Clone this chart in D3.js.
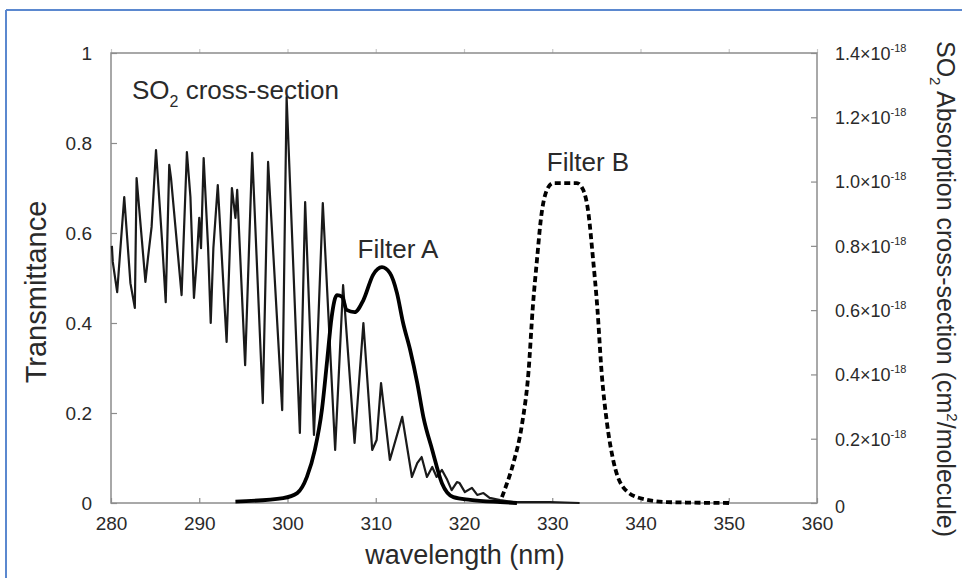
<!DOCTYPE html>
<html>
<head>
<meta charset="utf-8">
<script src="https://cdn.jsdelivr.net/npm/d3@7"></script>
<style>
  html, body { margin: 0; padding: 0; background: #fff; }
  svg { display: block; font-family: "Liberation Sans", Arial, Helvetica, sans-serif; }
</style>
</head>
<body>
<svg id="chart" width="962" height="578"></svg>
<script>
// SO2 absorption cross-section (units of 1e-18 cm^2/molecule)
const so2Wavelength = [280.1, 280.2, 280.7, 281.5, 282.2, 282.7, 282.9, 283.5, 283.9, 284.2, 284.6, 285.1,
  285.8, 286.2, 286.6, 286.8, 287.3, 288.0, 288.6, 289.0, 289.4, 289.7, 290.0, 290.2, 290.5, 291.0, 291.3,
  291.6, 292.1, 293.1, 293.7, 294.1, 294.3, 295.2, 296.0, 297.2, 297.8, 299.4, 299.9, 301.4, 302.0, 303.0,
  304.0, 305.4, 306.3, 307.6, 308.6, 309.6, 310.1, 310.6, 311.6, 313.0, 314.1, 314.7, 315.2, 315.8, 316.4,
  316.9, 317.5, 318.1, 318.6, 319.2, 319.5, 320.1, 320.9, 321.5, 322.2, 322.9, 324.1, 325.6, 329.7, 333.1];
const so2CrossSection = [0.80, 0.75, 0.656, 0.952, 0.684, 0.607, 1.011, 0.818, 0.688, 0.765, 0.859, 1.098,
  0.809, 0.625, 1.052, 1.011, 0.859, 0.647, 1.092, 0.952, 0.638, 0.75, 0.887, 0.793, 1.073, 0.796, 0.56,
  0.793, 0.989, 0.501, 0.98, 0.887, 0.974, 0.429, 1.089, 0.311, 1.061, 0.289, 1.263, 0.218, 0.936, 0.212,
  0.933, 0.165, 0.678, 0.187, 0.56, 0.165, 0.196, 0.373, 0.134, 0.268, 0.081, 0.124, 0.143, 0.081, 0.112,
  0.081, 0.103, 0.072, 0.04, 0.065, 0.062, 0.034, 0.047, 0.025, 0.031, 0.016, 0.009, 0.003, 0.003, 0];

// Filter A transmittance
const filterAWavelength = [294.1, 299.5, 301.1, 302.2, 303.1, 303.9, 304.5, 305.0, 305.6, 306.2, 306.7,
  307.6, 308.6, 309.7, 310.7, 311.6, 312.4, 313.1, 313.9, 314.7, 315.4, 316.4, 317.5, 318.8, 320.7, 324.1, 326.0];
const filterATransmittance = [0.003, 0.011, 0.022, 0.058, 0.118, 0.207, 0.318, 0.413, 0.462, 0.458, 0.429,
  0.424, 0.451, 0.507, 0.524, 0.511, 0.467, 0.40, 0.34, 0.267, 0.191, 0.118, 0.044, 0.013, 0.007, 0.002, 0.0];

// Filter B transmittance
const filterBWavelength = [324.3, 324.6, 325.6, 326.6, 327.3, 327.8, 328.3, 328.7, 329.4, 330.1, 332.8,
  333.5, 334.1, 334.6, 335.1, 335.6, 336.2, 336.9, 338.0, 339.9, 343.0, 350.1];
const filterBTransmittance = [0.013, 0.029, 0.089, 0.178, 0.289, 0.436, 0.547, 0.629, 0.696, 0.711, 0.711,
  0.696, 0.644, 0.547, 0.436, 0.289, 0.178, 0.096, 0.036, 0.011, 0.002, 0];

// Axis ticks
const wavelengthTicks = [280, 290, 300, 310, 320, 330, 340, 350, 360];
const transmittanceTicks = [0, 0.2, 0.4, 0.6, 0.8, 1];
const transmittanceLabels = ["0", "0.2", "0.4", "0.6", "0.8", "1"];
const crossSectionTicks = [0, 0.2, 0.4, 0.6, 0.8, 1.0, 1.2, 1.4];
const crossSectionMantissa = ["0", "0.2", "0.4", "0.6", "0.8", "1.0", "1.2", "1.4"];
const crossSectionExponent = "-18";

const svg = d3.select("#chart");
const plotLeft = 111, plotRight = 817, plotTop = 53, plotBottom = 503;

const x = d3.scaleLinear().domain([280, 360]).range([plotLeft, plotRight]);
const yT = d3.scaleLinear().domain([0, 1]).range([plotBottom, plotTop]);
const yC = d3.scaleLinear().domain([0, 1.4]).range([plotBottom, plotTop]);

const textColor = "#2a2a2a";
const frameColor = "#8c8c8c";

// page frame (top and left rules)
svg.append("line").attr("x1", 6).attr("x2", 962).attr("y1", 10).attr("y2", 10)
  .attr("stroke", "#5b88cf").attr("stroke-width", 2);
svg.append("line").attr("x1", 6).attr("x2", 6).attr("y1", 10).attr("y2", 578)
  .attr("stroke", "#5b88cf").attr("stroke-width", 2);

// axes
function styleAxis(g) {
  g.select(".domain").remove();
  g.selectAll(".tick line").attr("stroke", frameColor).attr("stroke-width", 1.2);
  g.selectAll(".tick text").attr("fill", textColor);
  g.attr("font-family", null);
}

svg.append("g").attr("transform", `translate(0,${plotBottom})`)
  .call(d3.axisBottom(x).tickValues(wavelengthTicks).tickFormat(d3.format("d"))
    .tickSizeInner(-5).tickSizeOuter(0).tickPadding(14))
  .call(styleAxis)
  .call(g => g.selectAll(".tick text").attr("font-size", 19));

svg.append("g").attr("transform", `translate(0,${plotTop})`)
  .call(d3.axisTop(x).tickValues(wavelengthTicks).tickFormat("").tickSizeInner(4).tickSizeOuter(0))
  .call(styleAxis)
  .call(g => g.selectAll(".tick line").attr("stroke", "#c8c8c8"));

svg.append("g").attr("transform", `translate(${plotLeft},0)`)
  .call(d3.axisLeft(yT).tickValues(transmittanceTicks)
    .tickFormat((d, i) => transmittanceLabels[i])
    .tickSizeInner(-6).tickSizeOuter(0).tickPadding(19))
  .call(styleAxis)
  .call(g => g.selectAll(".tick text").attr("font-size", 19));

const rightAxis = svg.append("g").attr("transform", `translate(${plotRight},0)`)
  .call(d3.axisRight(yC).tickValues(crossSectionTicks).tickFormat("")
    .tickSizeInner(-6).tickSizeOuter(0))
  .call(styleAxis);

rightAxis.selectAll(".tick").each(function (d, i) {
  const t = d3.select(this).append("text")
    .attr("x", 18).attr("dy", "0.35em")
    .attr("fill", textColor).attr("font-size", 18).attr("text-anchor", "start");
  if (d === 0) {
    t.text(crossSectionMantissa[i]).attr("dy", "0.55em");
  } else {
    t.append("tspan").text(crossSectionMantissa[i] + "\u00d710");
    t.append("tspan").attr("dy", -8).attr("font-size", 11).text(crossSectionExponent);
  }
});

// plot frame
svg.append("rect").attr("x", plotLeft).attr("y", plotTop)
  .attr("width", plotRight - plotLeft).attr("height", plotBottom - plotTop)
  .attr("fill", "none").attr("stroke", frameColor).attr("stroke-width", 1.5);

// series
const so2Line = d3.line().x(i => x(so2Wavelength[i])).y(i => yC(so2CrossSection[i]));
svg.append("path").datum(d3.range(so2Wavelength.length))
  .attr("d", so2Line).attr("fill", "none").attr("stroke", "#1a1a1a")
  .attr("stroke-width", 2.2).attr("stroke-linejoin", "round");

const filterALine = d3.line().curve(d3.curveMonotoneX)
  .x(i => x(filterAWavelength[i])).y(i => yT(filterATransmittance[i]));
svg.append("path").datum(d3.range(filterAWavelength.length))
  .attr("d", filterALine).attr("fill", "none").attr("stroke", "#000")
  .attr("stroke-width", 3.8).attr("stroke-linejoin", "round");

const filterBLine = d3.line().curve(d3.curveMonotoneX)
  .x(i => x(filterBWavelength[i])).y(i => yT(filterBTransmittance[i]));
svg.append("path").datum(d3.range(filterBWavelength.length))
  .attr("d", filterBLine).attr("fill", "none").attr("stroke", "#000")
  .attr("stroke-width", 3.8).attr("stroke-dasharray", "6,3.5");

// annotations
const so2Label = svg.append("text").attr("x", 132).attr("y", 99)
  .attr("fill", textColor).attr("font-size", 26);
so2Label.append("tspan").text("SO");
so2Label.append("tspan").attr("dy", 8).attr("font-size", 16).text("2");
so2Label.append("tspan").attr("dy", -8).text(" cross-section");

svg.append("text").attr("x", 398).attr("y", 258).attr("text-anchor", "middle")
  .attr("fill", textColor).attr("font-size", 26).text("Filter A");
svg.append("text").attr("x", 588).attr("y", 171).attr("text-anchor", "middle")
  .attr("fill", textColor).attr("font-size", 26).text("Filter B");

// axis titles
svg.append("text").attr("x", 465).attr("y", 564).attr("text-anchor", "middle")
  .attr("fill", textColor).attr("font-size", 27).text("wavelength (nm)");

svg.append("text").attr("transform", "translate(46,292) rotate(-90)")
  .attr("text-anchor", "middle").attr("fill", textColor).attr("font-size", 29)
  .text("Transmittance");

const rightTitle = svg.append("text").attr("transform", "translate(937,289) rotate(90)")
  .attr("text-anchor", "middle").attr("fill", textColor).attr("font-size", 25);
rightTitle.append("tspan").text("SO");
rightTitle.append("tspan").attr("dy", 7).attr("font-size", 15).text("2");
rightTitle.append("tspan").attr("dy", -7).text(" Absorption cross-section (cm");
rightTitle.append("tspan").attr("dy", -10).attr("font-size", 15).text("2");
rightTitle.append("tspan").attr("dy", 10).text("/molecule)");
</script>
</body>
</html>
